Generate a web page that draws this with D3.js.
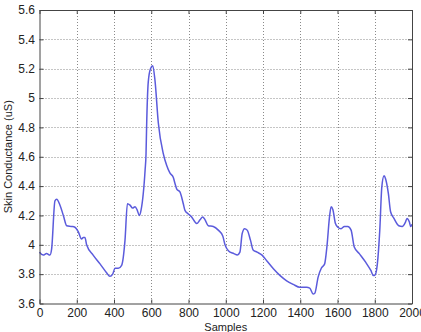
<!DOCTYPE html>
<html>
<head>
<meta charset="utf-8">
<script src="https://cdn.jsdelivr.net/npm/d3@7"></script>
<style>
  body { margin: 0; background: #fff; }
  text { font-family: "Liberation Sans", Arial, sans-serif; fill: #222; }
</style>
</head>
<body>
<svg id="chart"></svg>
<script>
// samples
const samples = [0, 20, 38, 56, 65, 83, 92, 110, 128, 146, 172, 190, 208, 226, 235, 244, 253, 288, 325, 360, 378, 393, 405, 423, 441, 459, 472, 486, 500, 513, 525, 536, 545, 567, 572, 575, 584, 596, 608, 620, 638, 665, 683, 700, 718, 727, 737, 754, 772, 781, 799, 817, 835, 844, 862, 876, 889, 906, 933, 960, 984, 996, 1014, 1044, 1062, 1076, 1088, 1101, 1115, 1133, 1147, 1168, 1195, 1221, 1257, 1292, 1327, 1363, 1398, 1434, 1451, 1469, 1478, 1496, 1513, 1531, 1543, 1558, 1566, 1575, 1589, 1602, 1619, 1637, 1655, 1673, 1690, 1717, 1752, 1779, 1793, 1802, 1814, 1827, 1838, 1850, 1858, 1873, 1885, 1903, 1929, 1947, 1965, 1973, 1986, 1993, 2000];
const conductance = [3.95, 3.93, 3.94, 3.93, 3.97, 4.30, 4.31, 4.27, 4.20, 4.13, 4.125, 4.12, 4.09, 4.04, 4.05, 4.05, 4.00, 3.93, 3.87, 3.81, 3.785, 3.80, 3.84, 3.84, 3.86, 4.03, 4.28, 4.27, 4.25, 4.26, 4.235, 4.20, 4.235, 4.51, 4.62, 4.80, 5.11, 5.20, 5.22, 5.12, 4.83, 4.62, 4.54, 4.49, 4.46, 4.42, 4.38, 4.36, 4.28, 4.235, 4.21, 4.19, 4.155, 4.145, 4.17, 4.19, 4.17, 4.13, 4.125, 4.10, 4.06, 4.00, 3.96, 3.94, 3.93, 3.95, 4.075, 4.11, 4.10, 4.03, 3.965, 3.95, 3.93, 3.89, 3.835, 3.79, 3.755, 3.73, 3.71, 3.71, 3.705, 3.665, 3.67, 3.78, 3.84, 3.87, 3.985, 4.20, 4.26, 4.24, 4.145, 4.12, 4.11, 4.125, 4.125, 4.10, 3.985, 3.94, 3.88, 3.825, 3.79, 3.795, 3.87, 4.10, 4.395, 4.47, 4.45, 4.35, 4.225, 4.18, 4.13, 4.125, 4.155, 4.18, 4.155, 4.125, 4.14];
const xTicks = [0, 200, 400, 600, 800, 1000, 1200, 1400, 1600, 1800, 2000];
const yTicks = [3.6, 3.8, 4, 4.2, 4.4, 4.6, 4.8, 5, 5.2, 5.4, 5.6];

const width = 421, height = 332;
const plotLeft = 39.5, plotRight = 412, plotTop = 10, plotBottom = 303.5;

const svg = d3.select('#chart').attr('width', width).attr('height', height);

const x = d3.scaleLinear().domain([0, 2000]).range([plotLeft, plotRight]);
const y = d3.scaleLinear().domain([3.6, 5.6]).range([plotBottom, plotTop]);

// dotted grid
const grid = svg.append('g')
  .attr('stroke', '#8a8a8a')
  .attr('stroke-width', 1)
  .attr('stroke-dasharray', '1,2');
grid.selectAll('line.gx')
  .data(xTicks.slice(1, -1))
  .enter().append('line')
  .attr('x1', d => Math.round(x(d)) + 0.5).attr('x2', d => Math.round(x(d)) + 0.5)
  .attr('y1', plotTop).attr('y2', plotBottom);
grid.selectAll('line.gy')
  .data(yTicks.slice(1, -1))
  .enter().append('line')
  .attr('y1', d => Math.round(y(d)) + 0.5).attr('y2', d => Math.round(y(d)) + 0.5)
  .attr('x1', plotLeft).attr('x2', plotRight);

// the signal
const line = d3.line()
  .x((d, i) => x(samples[i]))
  .y(d => y(d))
  .curve(d3.curveMonotoneX);

svg.append('path')
  .datum(conductance)
  .attr('d', line)
  .attr('fill', 'none')
  .attr('stroke', '#5b5bdc')
  .attr('stroke-width', 1.5);

// matlab style axes, ticks pointing in on every side
const fmt = d => String(d);
svg.append('g')
  .attr('transform', `translate(0,${plotBottom})`)
  .call(d3.axisBottom(x).tickValues(xTicks).tickSizeInner(-4).tickSizeOuter(0).tickPadding(5).tickFormat(fmt));
svg.append('g')
  .attr('transform', `translate(0,${plotTop})`)
  .call(d3.axisTop(x).tickValues(xTicks).tickSizeInner(-4).tickSizeOuter(0).tickFormat(''));
svg.append('g')
  .attr('transform', `translate(${plotLeft},0)`)
  .call(d3.axisLeft(y).tickValues(yTicks).tickSizeInner(-4).tickSizeOuter(0).tickPadding(4.5).tickFormat(fmt));
svg.append('g')
  .attr('transform', `translate(${plotRight},0)`)
  .call(d3.axisRight(y).tickValues(yTicks).tickSizeInner(-4).tickSizeOuter(0).tickFormat(''));

svg.selectAll('.domain').attr('stroke', '#444');
svg.selectAll('.tick line').attr('stroke', '#444');
svg.selectAll('.tick text')
  .style('font-size', '12px')
  .style('font-family', '"Liberation Sans", Arial, sans-serif')
  .attr('fill', '#222');

// axis titles
svg.append('text')
  .attr('x', (plotLeft + plotRight) / 2)
  .attr('y', 331)
  .attr('text-anchor', 'middle')
  .style('font-size', '11px')
  .text('Samples');

svg.append('text')
  .attr('transform', `translate(11.5,${(plotTop + plotBottom) / 2}) rotate(-90)`)
  .attr('text-anchor', 'middle')
  .style('font-size', '11px')
  .text('Skin Conductance (uS)');
</script>
</body>
</html>
